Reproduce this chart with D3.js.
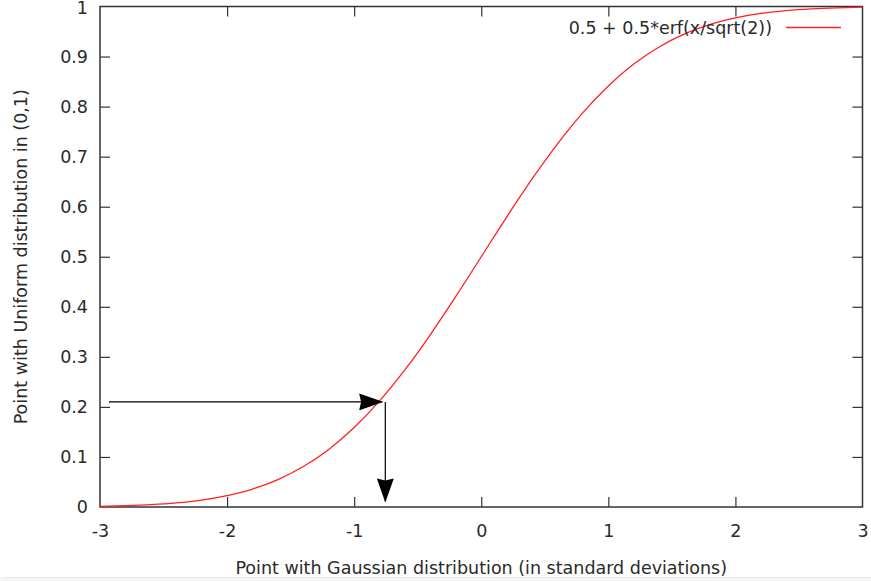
<!DOCTYPE html>
<html>
<head>
<meta charset="utf-8">
<script src="https://cdn.jsdelivr.net/npm/d3@7"></script>
<style>
  html, body { margin: 0; padding: 0; background: #fff; }
  svg { display: block; }
  text { font-family: "DejaVu Sans", sans-serif; fill: #2a2a2a; }
</style>
</head>
<body>
<svg id="chart" width="871" height="581"></svg>
<script>
// Standard normal CDF sampled along the x range
const xValues = [-3.0, -2.8, -2.6, -2.4, -2.2, -2.0, -1.8, -1.6, -1.4, -1.2, -1.0, -0.8, -0.6, -0.4, -0.2,
                 0.0, 0.2, 0.4, 0.6, 0.8, 1.0, 1.2, 1.4, 1.6, 1.8, 2.0, 2.2, 2.4, 2.6, 2.8, 3.0];
const cdfValues = [0.0013, 0.0026, 0.0047, 0.0082, 0.0139, 0.0228, 0.0359, 0.0548, 0.0808, 0.1151, 0.1587,
                   0.2119, 0.2743, 0.3446, 0.4207, 0.5, 0.5793, 0.6554, 0.7257, 0.7881, 0.8413, 0.8849,
                   0.9192, 0.9452, 0.9641, 0.9772, 0.9861, 0.9918, 0.9953, 0.9974, 0.9987];

const xTicks = [-3, -2, -1, 0, 1, 2, 3];
const yTicks = [0, 0.1, 0.2, 0.3, 0.4, 0.5, 0.6, 0.7, 0.8, 0.9, 1];

// Arrows: uniform value -> curve -> gaussian value
const arrowFrom = [[-2.93, 0.21], [-0.755, 0.21]];
const arrowTo   = [[-0.78, 0.21], [-0.755, 0.011]];

const seriesLabel = "0.5 + 0.5*erf(x/sqrt(2))";
const xLabel = "Point with Gaussian distribution (in standard deviations)";
const yLabel = "Point with Uniform distribution in (0,1)";

const svg = d3.select("#chart");
const W = 871, H = 581;
const mLeft = 100, mRight = 862.5, mTop = 6.5, mBottom = 507;
const fontSize = 17.5;

const x = d3.scaleLinear().domain([-3, 3]).range([mLeft, mRight]);
const y = d3.scaleLinear().domain([0, 1]).range([mBottom, mTop]);

// footer strip
svg.append("rect").attr("x", 0).attr("y", 577).attr("width", W).attr("height", H - 577).attr("fill", "#f6f5f3");
svg.append("line").attr("x1", 5).attr("x2", W).attr("y1", 577.5).attr("y2", 577.5).attr("stroke", "#e6e6e6");

const axisColor = "#333";
const tickLen = 10;

// axes with inward ticks on all four sides
const gB = svg.append("g").attr("transform", `translate(0,${mBottom})`)
  .call(d3.axisBottom(x).tickValues(xTicks).tickSize(-tickLen).tickPadding(17.5).tickFormat(d => String(d)));
const gT = svg.append("g").attr("transform", `translate(0,${mTop})`)
  .call(d3.axisTop(x).tickValues(xTicks).tickSize(-tickLen).tickFormat(""));
const gL = svg.append("g").attr("transform", `translate(${mLeft},0)`)
  .call(d3.axisLeft(y).tickValues(yTicks).tickSize(-tickLen).tickPadding(12).tickFormat(d => String(+d.toFixed(1))));
const gR = svg.append("g").attr("transform", `translate(${mRight},0)`)
  .call(d3.axisRight(y).tickValues(yTicks).tickSize(-tickLen).tickFormat(""));

[gB, gT, gL, gR].forEach(g => {
  g.select(".domain").remove();
  g.selectAll(".tick line").attr("stroke", axisColor).attr("stroke-width", 1.2);
  g.selectAll(".tick text").attr("font-size", fontSize).attr("fill", "#2a2a2a").style("font-family", "DejaVu Sans, sans-serif");
});
// keep the top label inside the page
gL.selectAll(".tick").filter(d => d === 1).select("text").attr("dy", "0.4em");
// hide end ticks that sit on the frame
[gB, gT].forEach(g => g.selectAll(".tick").filter(d => d === -3 || d === 3).select("line").remove());
[gL, gR].forEach(g => g.selectAll(".tick").filter(d => d === 0 || d === 1).select("line").remove());

// frame
svg.append("rect").attr("x", mLeft).attr("y", mTop).attr("width", mRight - mLeft).attr("height", mBottom - mTop)
  .attr("fill", "none").attr("stroke", axisColor).attr("stroke-width", 1.5);

// curve
const pts = xValues.map((v, i) => [v, cdfValues[i]]);
svg.append("path").datum(pts)
  .attr("d", d3.line().x(d => x(d[0])).y(d => y(d[1])).curve(d3.curveMonotoneX))
  .attr("fill", "none").attr("stroke", "#ff2020").attr("stroke-width", 1.3);

// arrows
const defs = svg.append("defs");
defs.append("marker").attr("id", "head").attr("viewBox", "0 0 24 17")
  .attr("refX", 23).attr("refY", 8.5).attr("markerWidth", 24).attr("markerHeight", 17)
  .attr("markerUnits", "userSpaceOnUse").attr("orient", "auto")
  .append("path").attr("d", "M0,0 L24,8.5 L0,17 L2,8.5 Z").attr("fill", "#000");

arrowFrom.forEach((f, i) => {
  const t = arrowTo[i];
  svg.append("line")
    .attr("x1", x(f[0])).attr("y1", y(f[1])).attr("x2", x(t[0])).attr("y2", y(t[1]))
    .attr("stroke", "#000").attr("stroke-width", 1.2).attr("marker-end", "url(#head)");
});

// legend
svg.append("text").attr("x", 772).attr("y", 34).attr("text-anchor", "end").attr("font-size", fontSize).text(seriesLabel);
svg.append("line").attr("x1", 786).attr("x2", 841).attr("y1", 27.5).attr("y2", 27.5)
  .attr("stroke", "#ff2020").attr("stroke-width", 1.3);

// axis titles
svg.append("text").attr("x", (mLeft + mRight) / 2).attr("y", 574).attr("text-anchor", "middle")
  .attr("font-size", fontSize).text(xLabel);
svg.append("text").attr("transform", `translate(27,${(mTop + mBottom) / 2}) rotate(-90)`)
  .attr("text-anchor", "middle").attr("font-size", fontSize).text(yLabel);
</script>
</body>
</html>
